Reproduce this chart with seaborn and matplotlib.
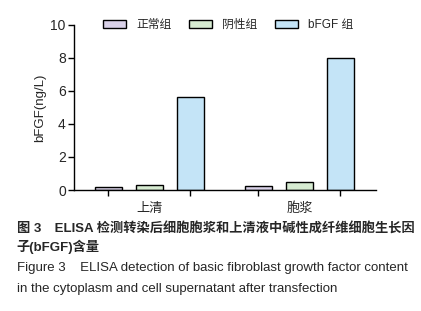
import numpy as np
import pandas as pd
import seaborn as sns
import matplotlib.pyplot as plt

# data
sites = ['上清', '胞浆']
groups = ['正常组', '阴性组', 'bFGF 组']
normal_vals = [0.16, 0.22]
negative_vals = [0.28, 0.47]
bfgf_vals = [5.62, 7.98]
y_ticks = [0, 2, 4, 6, 8, 10]

colors = ['#D9D1E8', '#D6EBD1', '#C4E4F7']

df = pd.DataFrame({
    'site': sites * 3,
    'group': [g for g in groups for _ in sites],
    'value': normal_vals + negative_vals + bfgf_vals,
})

sns.set_style('ticks')
plt.rcParams['font.family'] = ['Liberation Sans', 'Noto Sans CJK SC', 'DejaVu Sans']

fig = plt.figure(figsize=(4.21, 3.11), dpi=100)
ax_ = fig.add_axes([0.176, 0.389, 0.717, 0.531])

sns.barplot(data=df, x='site', y='value', hue='group', order=sites,
            hue_order=groups, palette=colors, saturation=1, width=0.82, gap=0.34,
            edgecolor='black', linewidth=1, ax=ax_)

ax_.set_xlim(-0.5, 1.51)
ax_.set_ylim(0, 10)
ax_.set_yticks(y_ticks)
ax_.tick_params(axis='y', labelsize=10, length=4, width=1, color='black', pad=2)
ax_.tick_params(axis='x', which='major', length=0, labelsize=9.5, pad=9)

# small ticks under every bar
centers = sorted(p.get_x() + p.get_width() / 2 for p in ax_.patches if p.get_height() > 0)
ax_.set_xticks(centers, minor=True)
ax_.tick_params(axis='x', which='minor', length=4, width=1, color='black')

for side in ['top', 'right']:
    ax_.spines[side].set_visible(False)
for side in ['left', 'bottom']:
    ax_.spines[side].set_linewidth(1)
    ax_.spines[side].set_color('black')

ax_.set_xlabel('')
ax_.set_ylabel('bFGF(ng/L)', fontsize=9.5, labelpad=3)

ax_.legend(loc='center', bbox_to_anchor=(0.51, 1.0), ncol=3, frameon=False,
           fontsize=8.5, handlelength=1.95, handleheight=0.7, columnspacing=1.5,
           handletextpad=0.85)

fig.text(0.04, 0.267, '图 3　ELISA 检测转染后细胞胞浆和上清液中碱性成纤维细胞生长因',
         fontsize=9.5, fontweight='bold', va='center')
fig.text(0.04, 0.206, '子(bFGF)含量', fontsize=9.5, fontweight='bold', va='center')
fig.text(0.04, 0.138, 'Figure 3    ELISA detection of basic fibroblast growth factor content',
         fontsize=9.5, va='center')
fig.text(0.04, 0.071, 'in the cytoplasm and cell supernatant after transfection',
         fontsize=9.5, va='center')

plt.savefig('out.png', dpi=100)
